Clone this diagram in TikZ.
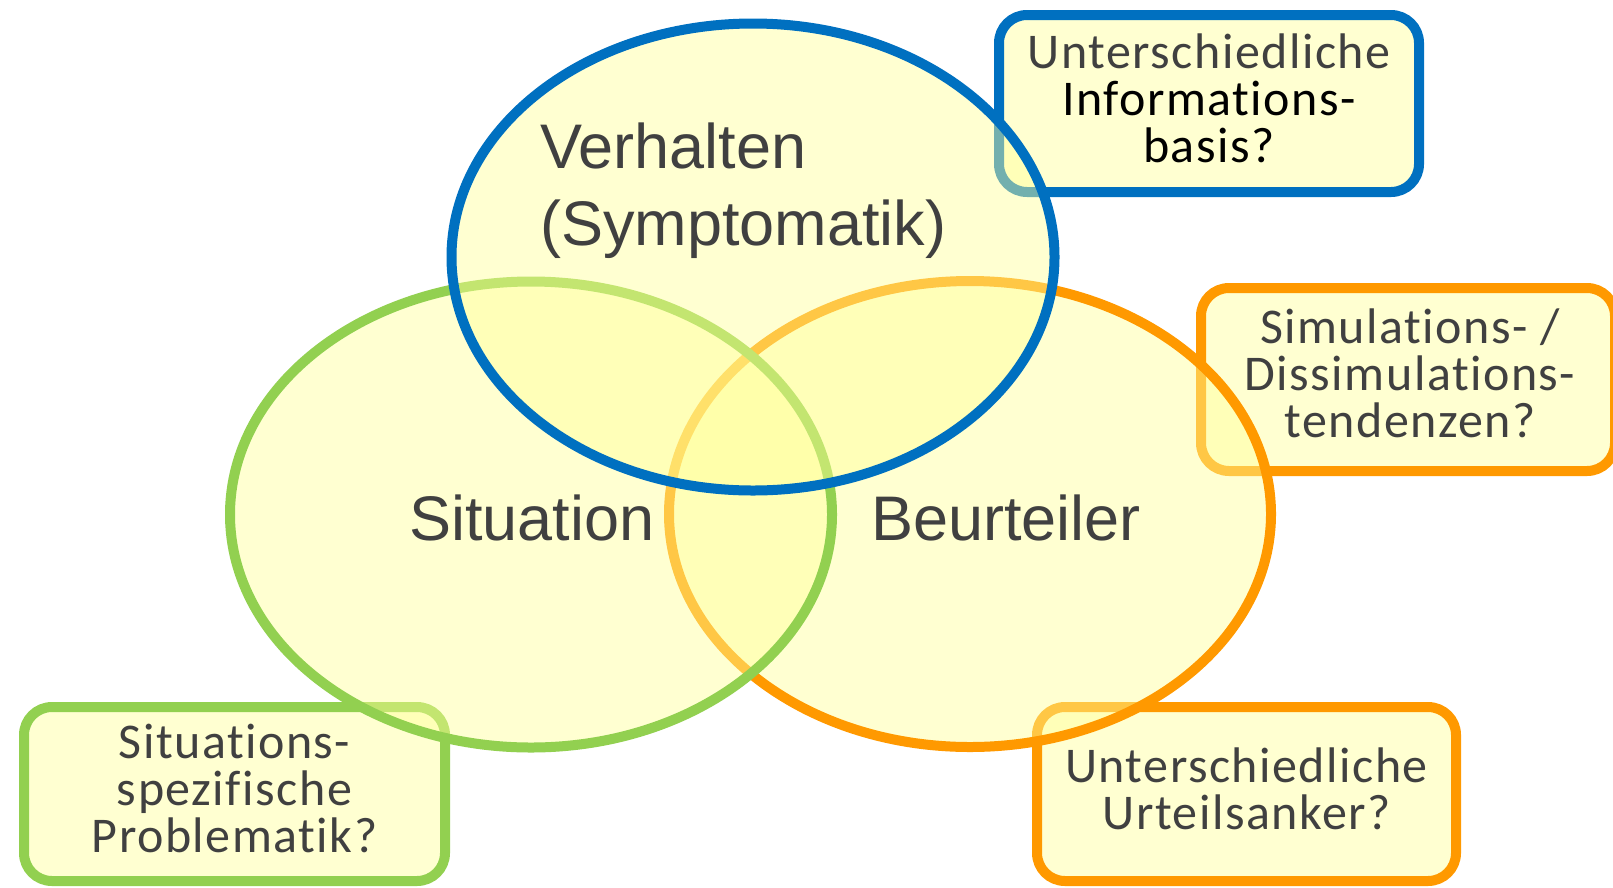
\documentclass[tikz,border=0pt]{standalone}
\usepackage{fontspec}
\setmainfont{Liberation Sans}
\newfontfamily\boxfont[Ligatures={NoCommon}, LetterSpace=3]{Carlito}
\usetikzlibrary{shapes.geometric}
\definecolor{vblue}{HTML}{0070C0}
\definecolor{vgreen}{HTML}{92D050}
\definecolor{vorange}{HTML}{FF9900}
\definecolor{vfill}{HTML}{FFFF99}
\definecolor{vtext}{HTML}{404040}
\tikzset{
  setfill/.style={fill=vfill, fill opacity=0.45, draw opacity=1, text opacity=1},
  setring/.style={ellipse, setfill, line width=10pt, inner sep=0pt,
    minimum width=602pt, minimum height=466pt},
  notebox/.style={rectangle, setfill, line width=10pt, rounded corners=28pt,
    inner sep=0pt},
  notetext/.style={inner sep=0pt, align=center, text=vtext, anchor=base,
    font=\boxfont\fontsize{50}{47}\selectfont},
  biglabel/.style={inner sep=0pt, text=vtext, font=\fontsize{63}{77}\selectfont}
}
\begin{document}
\begin{tikzpicture}[x=1pt, y=-1pt]
  \useasboundingbox (0,0) rectangle (1613,887);

  % question boxes (drawn underneath the rings)
  \node[notebox, draw=vblue, minimum width=420, minimum height=177] (info) at (1209,103.5) {};
  \node[notebox, draw=vorange, minimum width=414, minimum height=183] (simu) at (1408,379.5) {};
  \node[notebox, draw=vorange, minimum width=419, minimum height=174] (anker) at (1246.5,794) {};
  \node[notebox, draw=vgreen, minimum width=421, minimum height=174] (spez) at (234.5,794) {};

  % texts of the boxes (base = baseline of the last line)
  \node[notetext] (infotxt) at (1209,162.5)
    {Unterschiedliche\\\textcolor{black}{Informations-}\\\textcolor{black}{basis?}};
  \node[notetext] (simutxt) at (1410,437) {Simulations- /\\Dissimulations-\\tendenzen?};
  \node[notetext] (ankertxt) at (1246.5,829) {Unterschiedliche\\Urteilsanker?};
  \node[notetext] (speztxt) at (234.5,852) {Situations-\\spezifische\\Problematik?};

  % the three overlapping rings
  \node[setring, draw=vorange] (beur) at (970,514) {};
  \node[setring, draw=vgreen] (sit) at (531,514.5) {};
  \node[setring, draw=vblue, minimum width=603, minimum height=467] (verh) at (753,257) {};

  % ring labels
  \node[biglabel, anchor=base west, align=left] (verhtxt) at (540,245)
    {Verhalten\\(Symptomatik)};
  \node[biglabel, anchor=base] (sittxt) at (532,540) {Situation};
  \node[biglabel, anchor=base] (beurtxt) at (1006,540) {Beurteiler};
\end{tikzpicture}
\end{document}
